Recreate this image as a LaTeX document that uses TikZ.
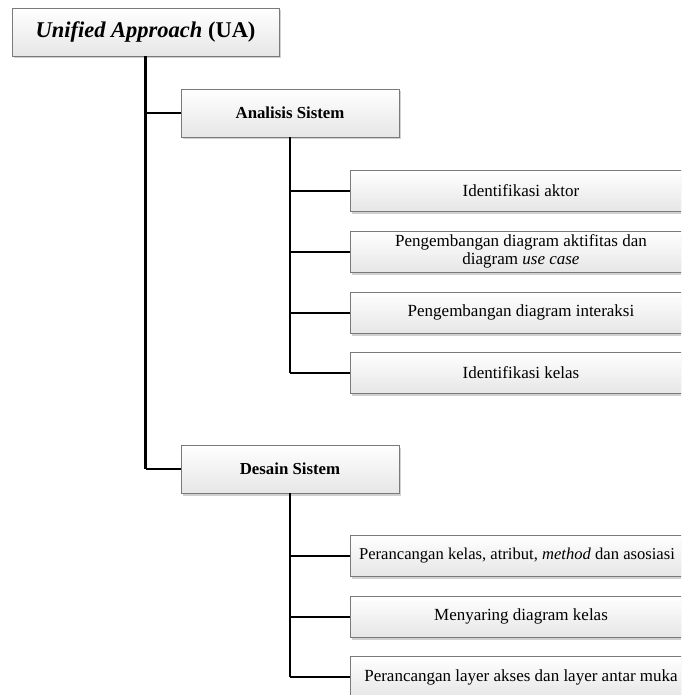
\documentclass[tikz,border=0pt]{standalone}
\usepackage{fontspec}
\setmainfont{Liberation Serif}
\usetikzlibrary{shadows}
\definecolor{boxborder}{HTML}{7A7A7A}
\definecolor{boxbot}{HTML}{E6E6E6}
\tikzset{
  box/.style={draw=boxborder, line width=0.9pt, top color=white, bottom color=boxbot,
    drop shadow={shadow xshift=2pt, shadow yshift=-2.5pt, fill=black!30, opacity=0.6},
    inner sep=0pt, align=center},
  rootbox/.style={box, minimum width=267pt, minimum height=48pt, font=\fontsize{22.5}{24}\selectfont\bfseries},
  midbox/.style={box, minimum width=218pt, minimum height=48pt, font=\fontsize{16.8}{18}\selectfont\bfseries},
  leafbox/.style={box, minimum width=342pt, minimum height=41pt, font=\fontsize{17}{17.5}\selectfont},
  vline/.style={line width=2.6pt, black},
  hline/.style={line width=2pt, black},
}
\begin{document}
\begin{tikzpicture}[x=1pt, y=-1pt]
\useasboundingbox (0,0) rectangle (681,695);
\clip (0,0) rectangle (681,695);
\fill[white] (0,0) rectangle (681,695);

\node[rootbox] (root) at (145.5,32) {\textit{Unified Approach} (UA)};
\node[midbox] (an) at (290,113) {Analisis Sistem};
\node[midbox] (ds) at (290,469) {Desain Sistem};

\node[leafbox] (a1) at (521,190.5) {Identifikasi aktor};
\node[leafbox] (a2) at (521,251.5) {Pengembangan diagram aktifitas dan\\diagram \textit{use case}};
\node[leafbox] (a3) at (521,312.5) {Pengembangan diagram interaksi};
\node[leafbox] (a4) at (521,373) {Identifikasi kelas};

\node[leafbox, font=\fontsize{16.6}{17.5}\selectfont] (d1) at (521,555.5) {Perancangan kelas, atribut, \textit{method} dan asosiasi\hspace*{8pt}};
\node[leafbox] (d2) at (521,616.5) {Menyaring diagram kelas};
\node[leafbox] (d3) at (521,677) {Perancangan layer akses dan layer antar muka};

% root trunk
\draw[vline] (root.south) -- (root.south |- ds.west);
\draw[hline] (root.south |- an.west) -- (an.west);
\draw[hline] (root.south |- ds.west) -- (ds.west);

% analisis branch
\draw[vline] (an.south) -- (an.south |- a4.west);
\foreach \n in {a1,a2,a3,a4} \draw[hline] (an.south |- \n.west) -- (\n.west);

% desain branch
\draw[vline] (ds.south) -- (ds.south |- d3.west);
\foreach \n in {d1,d2,d3} \draw[hline] (ds.south |- \n.west) -- (\n.west);
\end{tikzpicture}
\end{document}
